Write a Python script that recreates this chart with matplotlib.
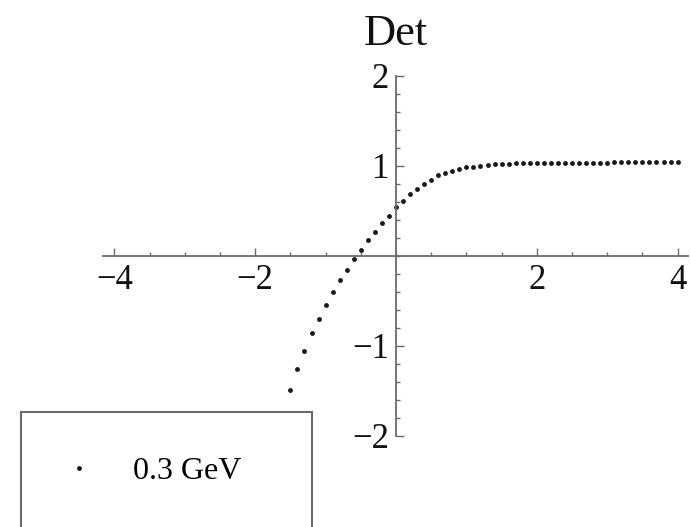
import numpy as np
import matplotlib.pyplot as plt
from matplotlib.patches import Rectangle
from matplotlib.ticker import MultipleLocator

plt.rcParams['font.family'] = ['Liberation Serif', 'DejaVu Serif']

# Det samples, step 0.1 from -1.5 to 4.0
x = np.round(np.arange(-1.5, 4.01, 0.1), 2)
det = [-1.49, -1.26, -1.06, -0.86, -0.70, -0.54, -0.40, -0.27, -0.15, -0.03,
       0.07, 0.18, 0.27, 0.37, 0.44, 0.54, 0.61, 0.69, 0.75, 0.80,
       0.84, 0.90, 0.92, 0.95, 0.97, 0.99, 0.99, 1.00, 1.01, 1.02,
       1.02, 1.02, 1.03, 1.03, 1.03, 1.03, 1.03, 1.03, 1.03, 1.03,
       1.03, 1.03, 1.03, 1.03, 1.03, 1.03, 1.04, 1.04, 1.04, 1.04,
       1.04, 1.04, 1.04, 1.04, 1.04, 1.04]
serie = '0.3 GeV'

xticks = [-4, -2, 2, 4]
yticks = [-2, -1, 1, 2]

W, H = 690, 527
fig = plt.figure(figsize=(W / 100, H / 100), dpi=100)

# sumbu: 0 di x=396 px, 70.4 px per satuan; y: 0 di 256 px, 90 px per satuan
x0, sx = 396, 70.4
kiri, kanan = 103, 688
atas, bawah = 76, 436
ax = fig.add_axes([kiri / W, 1 - bawah / H, (kanan - kiri) / W, (bawah - atas) / H])
ax.set_xlim((kiri - x0) / sx, (kanan - x0) / sx)
ax.set_ylim(-2, 2)

ax.plot(x, det, 'o', ms=3.5, color='#1a1a1a', mec='none', clip_on=False, label=serie)

abu = '#6a6a6a'
for s in ['top', 'right']:
    ax.spines[s].set_visible(False)
for s in ['left', 'bottom']:
    ax.spines[s].set_position(('data', 0))
    ax.spines[s].set_color(abu)
    ax.spines[s].set_linewidth(1.3)

ax.set_xticks(xticks)
ax.set_yticks(yticks)
ax.xaxis.set_minor_locator(MultipleLocator(0.5))
ax.yaxis.set_minor_locator(MultipleLocator(0.2))
ax.tick_params(which='both', direction='in', color=abu, width=1.0)
ax.tick_params(which='major', length=6)
ax.tick_params(which='minor', length=3)
ax.tick_params(axis='x', labelsize=25, pad=6)
ax.tick_params(axis='y', labelsize=25, pad=5)
for t in ax.get_xticklabels() + ax.get_yticklabels():
    t.set_color('#111111')

ax.annotate('Det', xy=(0, 2), xytext=(0, 22), textcoords='offset points',
            ha='center', va='baseline', fontsize=32, color='#111111')

# kotak legenda, bagian bawahnya terpotong tepi gambar
fig.add_artist(Rectangle((21 / W, -0.05), (312 - 21) / W, 1 - 412 / H + 0.05,
                         transform=fig.transFigure, fill=False,
                         edgecolor=abu, linewidth=1.5))
ax.legend(loc='center left', bbox_to_anchor=(63 / W, 1 - 471 / H),
          bbox_transform=fig.transFigure, frameon=False, fontsize=23,
          handlelength=1.0, handletextpad=1.19, borderpad=0, borderaxespad=0,
          numpoints=1, markerscale=1.0)

fig.savefig('out.png', dpi=100)
